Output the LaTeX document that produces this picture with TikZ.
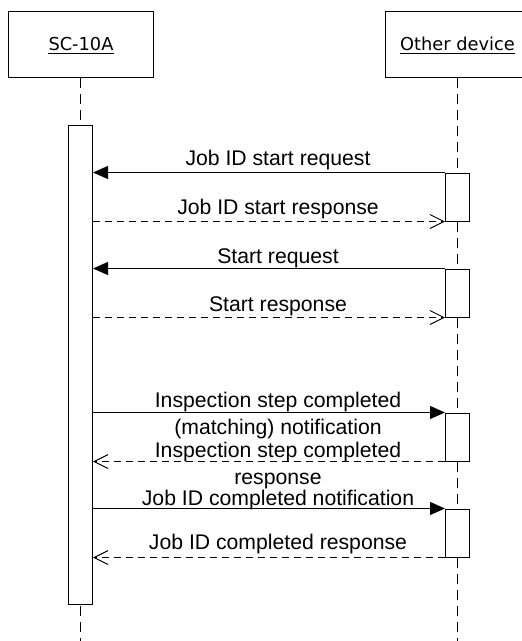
\documentclass[tikz,border=0pt]{standalone}
\usepackage{fontspec}
\setmainfont{Liberation Sans}
\newfontfamily\headfont{DejaVu Sans}
\usetikzlibrary{arrows.meta}
\begin{document}
\begin{tikzpicture}[x=1pt,y=-1pt,
  headbox/.style={draw, line width=1pt, minimum width=145pt, minimum height=66.5pt, inner sep=0pt},
  headtext/.style={inner sep=0pt, anchor=base, font=\headfont\fontsize{17.8}{20}\selectfont},
  uline/.style={line width=1.3pt},
  actbox/.style={draw, fill=white, line width=1pt, minimum width=24pt, inner sep=0pt},
  lifeline/.style={line width=1pt, dash pattern=on 10pt off 6pt},
  msg/.style={line width=1.2pt, -{Triangle[length=15pt,width=13pt]}},
  reply/.style={line width=1pt, dash pattern=on 7pt off 5pt, -{Straight Barb[length=14pt,width=14pt,line width=1pt]}},
  lbl/.style={font=\fontsize{21.2}{27}\selectfont, inner sep=0pt, align=center, anchor=base}
]
\useasboundingbox (0,0) rectangle (522,641);
% headers
\node[headbox] (hA) at (80.5,44.25) {};
\node[headbox] (hB) at (457.5,44.25) {};
\node[headtext] (tA) at (81,50.7) {SC-10A};
\node[headtext] (tB) at (457.5,50.7) {Other device};
\draw[uline] ([yshift=-2.6pt]tA.base west) -- ([yshift=-2.6pt]tA.base east);
\draw[uline] ([yshift=-2.6pt]tB.base west) -- ([yshift=-2.6pt]tB.base east);
% lifelines
\coordinate (endA) at (80.5,645);
\coordinate (endB) at (457.5,645);
\draw[lifeline] (hA.south) -- (endA);
\draw[lifeline] (hB.south) -- (endB);
% activations
\node[actbox, minimum height=478.3pt] (actA) at (80.5,364.85) {};
\node[actbox, minimum height=48pt] (act1) at (457.5,197) {};
\node[actbox, minimum height=48pt] (act2) at (457.5,293) {};
\node[actbox, minimum height=48pt] (act3) at (457.5,437) {};
\node[actbox, minimum height=48pt] (act4) at (457.5,533) {};
% labels
\node[lbl] (l1) at (278,165.5) {Job ID start request};
\node[lbl] (l2) at (278,214) {Job ID start response};
\node[lbl] (l3) at (278,263) {Start request};
\node[lbl] (l4) at (278,311.5) {Start response};
\node[lbl] (l5) at (278,434) {Inspection step completed\\(matching) notification};
\node[lbl] (l6) at (278,484.5) {Inspection step completed\\response};
\node[lbl] (l7) at (278,505.5) {Job ID completed notification};
\node[lbl] (l8) at (278,549.5) {Job ID completed response};
% messages
\draw[msg] (act1.north west) -- (act1.north west -| actA.east);
\draw[reply] (act1.south west -| actA.east) -- (act1.south west);
\draw[msg] (act2.north west) -- (act2.north west -| actA.east);
\draw[reply] (act2.south west -| actA.east) -- (act2.south west);
\draw[msg] (act3.north west -| actA.east) -- (act3.north west);
\draw[reply] (act3.south west) -- (act3.south west -| actA.east);
\draw[msg] (act4.north west -| actA.east) -- (act4.north west);
\draw[reply] (act4.south west) -- (act4.south west -| actA.east);
\end{tikzpicture}
\end{document}
